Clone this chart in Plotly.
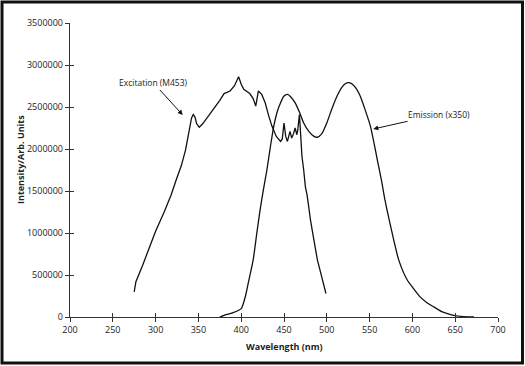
import plotly.graph_objects as go

# Excitation (M453) spectrum
exc_nm = [275, 277, 285, 300, 310, 318, 324, 330, 335, 339, 342, 344, 346, 348, 351, 355, 360, 368,
          375, 380, 387, 392, 397, 400, 403, 410, 414, 417, 420, 424, 428, 432, 436, 441, 446, 448,
          450, 452, 454, 457, 459, 461, 463, 465, 466, 468, 470, 471, 473, 475, 477, 479, 481, 483,
          486, 489, 494, 499]
exc_int = [300000, 420000, 620000, 1020000, 1250000, 1450000, 1630000, 1800000, 1990000, 2200000,
           2370000, 2410000, 2380000, 2300000, 2260000, 2300000, 2370000, 2470000, 2580000, 2660000,
           2690000, 2750000, 2860000, 2770000, 2710000, 2660000, 2600000, 2510000, 2690000, 2650000,
           2550000, 2400000, 2270000, 2150000, 2090000, 2120000, 2310000, 2150000, 2090000, 2210000,
           2130000, 2180000, 2250000, 2170000, 2220000, 2410000, 2050000, 1910000, 1750000, 1550000,
           1450000, 1270000, 1150000, 1030000, 850000, 680000, 480000, 280000]

# Emission (x350) spectrum
em_nm = [375, 380, 390, 400, 405, 409, 414, 418, 422, 426, 430, 434, 438, 442, 446, 450, 454, 458,
         463, 468, 473, 479, 485, 489, 494, 500, 506, 512, 518, 522, 526, 530, 535, 539, 545, 551,
         555, 559, 564, 568, 575, 584, 594, 602, 609, 617, 625, 635, 648, 660, 672]
em_int = [0, 20000, 50000, 100000, 250000, 440000, 680000, 980000, 1270000, 1520000, 1750000,
          2020000, 2270000, 2440000, 2550000, 2630000, 2650000, 2620000, 2550000, 2440000, 2310000,
          2210000, 2150000, 2140000, 2180000, 2310000, 2480000, 2630000, 2740000, 2780000, 2790000,
          2770000, 2710000, 2630000, 2460000, 2270000, 2080000, 1870000, 1620000, 1390000, 1060000,
          680000, 440000, 330000, 240000, 170000, 120000, 60000, 20000, 5000, 0]

x_ticks = [200, 250, 300, 350, 400, 450, 500, 550, 600, 650, 700]
y_ticks = [0, 500000, 1000000, 1500000, 2000000, 2500000, 3000000, 3500000]

FONT = "Open Sans"
INK = "#222222"

fig = go.Figure()
fig.add_trace(go.Scatter(x=exc_nm, y=exc_int, mode="lines", line=dict(color="#111", width=1.3),
                         hoverinfo="skip", showlegend=False))
fig.add_trace(go.Scatter(x=em_nm, y=em_int, mode="lines", line=dict(color="#111", width=1.3, shape="spline", smoothing=0.6),
                         hoverinfo="skip", showlegend=False))
# invisible trace carrying the inside-tick overlay axes
fig.add_trace(go.Scatter(x=[x_ticks[0]], y=[y_ticks[0]], mode="markers", marker=dict(opacity=0),
                         xaxis="x2", yaxis="y2", hoverinfo="skip", showlegend=False))

W, H = 525, 366
L, R, T, B = 70, 27, 23, 49
pw, ph = W - L - R, H - T - B

axis_common = dict(showgrid=False, zeroline=False, ticks="outside", ticklen=4, tickwidth=1,
                   tickcolor="#333", showline=True, linecolor="#333", linewidth=1.2,
                   tickfont=dict(family=FONT, size=9, color=INK))
fig.update_layout(
    width=W, height=H, margin=dict(l=L, r=R, t=T, b=B),
    paper_bgcolor="white", plot_bgcolor="white",
    xaxis=dict(range=[200, 700], tickvals=x_ticks, ticktext=[str(v) for v in x_ticks], **axis_common),
    yaxis=dict(range=[0, 3500000], tickvals=y_ticks, ticktext=[str(v) for v in y_ticks], **axis_common),
    xaxis2=dict(range=[200, 700], overlaying="x", tickvals=x_ticks, ticks="inside", ticklen=4,
                tickcolor="#333", showticklabels=False, showgrid=False, zeroline=False, showline=False),
    yaxis2=dict(range=[0, 3500000], overlaying="y", tickvals=y_ticks, ticks="inside", ticklen=4,
                tickcolor="#333", showticklabels=False, showgrid=False, zeroline=False, showline=False),
    showlegend=False,
)

# frame border around whole image
def px_to_paper_x(px):
    return (px - L) / pw

def px_to_paper_y(py):
    return (H - B - py) / ph

fig.add_shape(type="rect", xref="paper", yref="paper",
              x0=px_to_paper_x(2), x1=px_to_paper_x(522.5), y0=px_to_paper_y(363), y1=px_to_paper_y(2),
              line=dict(color="#111", width=3))

fig.add_annotation(text="Wavelength (nm)", xref="paper", yref="paper", x=0.5, y=px_to_paper_y(346),
                   xanchor="center", yanchor="middle",
                   showarrow=False, font=dict(family=FONT, size=9, color=INK, weight="bold"))
fig.add_annotation(text="Intensity/Arb. Units", xref="paper", yref="paper", x=px_to_paper_x(20),
                   y=px_to_paper_y(160), textangle=-90, showarrow=False, xanchor="center", yanchor="middle",
                   font=dict(family=FONT, size=9, color=INK, weight="bold"))

fig.add_annotation(text="Excitation (M453)", x=331.7, y=2405000, ax=297.5, ay=2786000,
                   axref="x", ayref="y", showarrow=True, arrowhead=2, arrowsize=1, arrowwidth=1,
                   arrowcolor="#111", font=dict(family=FONT, size=8.5, color=INK))
fig.add_annotation(text="Emission (x350)", x=554.3, y=2238000, ax=630.8, ay=2413000,
                   axref="x", ayref="y", showarrow=True, arrowhead=2, arrowsize=1, arrowwidth=1,
                   arrowcolor="#111", font=dict(family=FONT, size=8.5, color=INK))

fig.write_html("out.html", config={"displayModeBar": False, "staticPlot": True},
               post_script="document.body.style.margin='0';document.body.style.overflow='hidden';")
